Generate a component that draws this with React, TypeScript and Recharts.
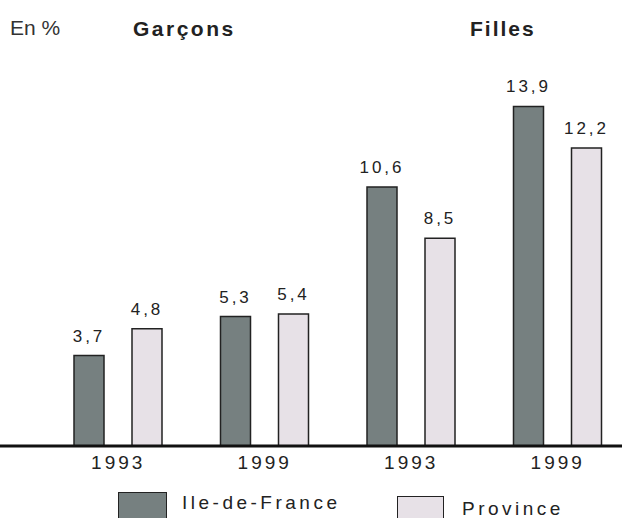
import { BarChart, Bar, XAxis, YAxis, LabelList } from 'recharts';

const groups = ['g1', 'g2', 'g3', 'g4'];
const years = ['1993', '1999', '1993', '1999'];
const ileDeFrance = [3.7, 5.3, 10.6, 13.9];
const province = [4.8, 5.4, 8.5, 12.2];

const DARK = '#768080';
const LIGHT = '#e7e1e7';
const INK = '#222';
const FONT = '"Liberation Sans", Arial, sans-serif';

const data = groups.map((g, i) => ({
  key: g,
  year: years[i],
  idf: ileDeFrance[i],
  prov: province[i],
}));

const fmt = (v: number) => String(v).replace('.', ',');

export default function App() {
  return (
    <div
      style={{
        position: 'absolute',
        left: 0,
        top: 0,
        width: 622,
        height: 518,
        overflow: 'hidden',
        background: '#fff',
        fontFamily: FONT,
        color: INK,
      }}
    >
      <BarChart
        width={640}
        height={518}
        data={data}
        margin={{ top: 104, right: 0, left: 0, bottom: 42 }}
        barSize={30}
        barGap={28}
      >
        <XAxis
          dataKey="key"
          height={30}
          tickFormatter={(_v: string, i: number) => years[i]}
          axisLine={{ stroke: '#111', strokeWidth: 3 }}
          tickLine={false}
          tickMargin={4}
          padding={{ left: 45, right: 9 }}
          tick={{ fill: INK, fontSize: 19, fontFamily: FONT, letterSpacing: 3 }}
        />
        <YAxis hide domain={[0, 14]} />
        <Bar dataKey="idf" fill={DARK} stroke="#222" strokeWidth={1.5} isAnimationActive={false}>
          <LabelList
            dataKey="idf"
            position="top"
            offset={14}
            formatter={(v: number) => fmt(v)}
            style={{ fill: INK, fontSize: 17, fontFamily: FONT, letterSpacing: 3 }}
          />
        </Bar>
        <Bar dataKey="prov" fill={LIGHT} stroke="#222" strokeWidth={1.5} isAnimationActive={false}>
          <LabelList
            dataKey="prov"
            position="top"
            offset={14}
            formatter={(v: number) => fmt(v)}
            style={{ fill: INK, fontSize: 17, fontFamily: FONT, letterSpacing: 3 }}
          />
        </Bar>
      </BarChart>

      <div style={{ position: 'absolute', left: 10, top: 16, fontSize: 21, lineHeight: '24px', color: '#333' }}>
        En %
      </div>
      <div style={{ position: 'absolute', left: 133, top: 17, fontSize: 21, lineHeight: '24px', fontWeight: 'bold', letterSpacing: 2.5 }}>
        Garçons
      </div>
      <div style={{ position: 'absolute', left: 470, top: 17, fontSize: 21, lineHeight: '24px', fontWeight: 'bold', letterSpacing: 2 }}>
        Filles
      </div>

      <div style={{ position: 'absolute', left: 118, top: 492, width: 49, height: 30, background: DARK, border: '1.5px solid #222', boxSizing: 'border-box' }} />
      <div style={{ position: 'absolute', left: 182, top: 495, fontSize: 19, lineHeight: '16px', letterSpacing: 3.5 }}>
        Ile-de-France
      </div>
      <div style={{ position: 'absolute', left: 397, top: 496, width: 47, height: 30, background: LIGHT, border: '1.5px solid #222', boxSizing: 'border-box' }} />
      <div style={{ position: 'absolute', left: 462, top: 501, fontSize: 19, lineHeight: '16px', letterSpacing: 3.5 }}>
        Province
      </div>
    </div>
  );
}
